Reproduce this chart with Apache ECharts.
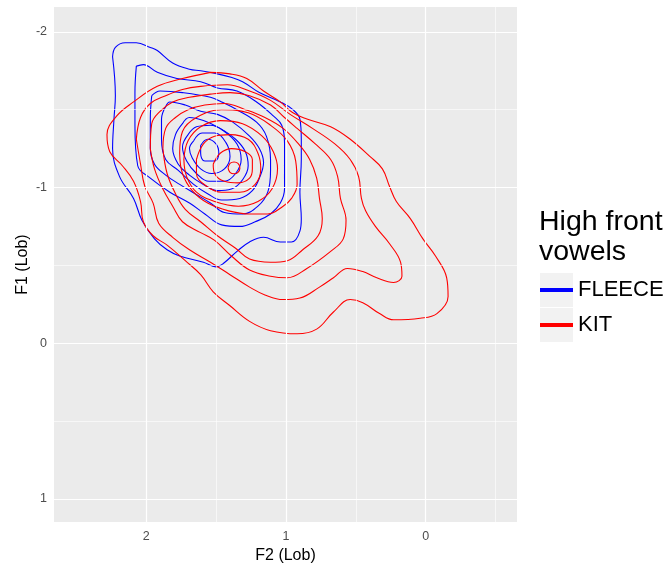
<!DOCTYPE html>
<html>
<head>
<meta charset="utf-8">
<script src="https://cdn.jsdelivr.net/npm/echarts@6/dist/echarts.min.js"></script>
<style>html,body{margin:0;padding:0;background:#fff}#c{width:670px;height:569px}</style>
</head>
<body>
<div id="c"></div>
<script>
// Axis ticks
const xTicks = [0, 1, 2];
const yTicks = [-2, -1, 0, 1];
const xMinor = [-0.5, 0.5, 1.5];
const yMinor = [-1.5, -0.5, 0.5];

// FLEECE density contours, [F2, F1] (outermost first)
const fleece1 = [[2.24,-1.84],[2.22,-1.90],[2.15,-1.93],[2.07,-1.93],[1.97,-1.90],[1.92,-1.88],[1.81,-1.80],[1.69,-1.76],[1.61,-1.75],[1.49,-1.73],[1.40,-1.71],[1.31,-1.68],[1.19,-1.61],[1.04,-1.55],[0.95,-1.50],[0.90,-1.44],[0.89,-1.31],[0.89,-1.18],[0.90,-0.97],[0.89,-0.80],[0.90,-0.72],[0.96,-0.65],[1.04,-0.65],[1.16,-0.68],[1.26,-0.65],[1.35,-0.59],[1.45,-0.51],[1.50,-0.49],[1.59,-0.52],[1.76,-0.56],[1.85,-0.60],[1.94,-0.67],[2.03,-0.79],[2.09,-0.93],[2.19,-1.07],[2.24,-1.25],[2.23,-1.44],[2.22,-1.59],[2.24,-1.84]];
const fleece2 = [[2.07,-1.78],[2.02,-1.79],[1.92,-1.74],[1.78,-1.70],[1.61,-1.68],[1.49,-1.64],[1.35,-1.62],[1.21,-1.55],[1.09,-1.46],[1.03,-1.40],[1.01,-1.29],[1.01,-1.12],[1.01,-0.99],[1.04,-0.90],[1.11,-0.83],[1.22,-0.78],[1.33,-0.75],[1.46,-0.76],[1.58,-0.83],[1.69,-0.90],[1.83,-0.97],[1.97,-1.06],[2.06,-1.14],[2.08,-1.40],[2.08,-1.61],[2.07,-1.78]];
const fleece3 = [[1.96,-1.59],[1.90,-1.62],[1.74,-1.61],[1.54,-1.58],[1.46,-1.55],[1.35,-1.50],[1.21,-1.42],[1.14,-1.33],[1.11,-1.18],[1.11,-1.11],[1.13,-0.97],[1.20,-0.88],[1.31,-0.83],[1.44,-0.84],[1.54,-0.90],[1.65,-0.96],[1.76,-1.02],[1.86,-1.08],[1.94,-1.15],[1.97,-1.25],[1.97,-1.44],[1.96,-1.59]];
const fleece4 = [[1.86,-1.52],[1.83,-1.55],[1.72,-1.53],[1.61,-1.49],[1.49,-1.47],[1.38,-1.42],[1.26,-1.33],[1.19,-1.25],[1.16,-1.16],[1.19,-1.06],[1.24,-0.98],[1.33,-0.93],[1.46,-0.92],[1.56,-0.96],[1.66,-1.02],[1.77,-1.11],[1.86,-1.18],[1.89,-1.31],[1.89,-1.44],[1.86,-1.52]];
const fleece5 = [[1.74,-1.41],[1.69,-1.45],[1.59,-1.43],[1.47,-1.38],[1.36,-1.31],[1.29,-1.23],[1.27,-1.14],[1.31,-1.05],[1.39,-0.99],[1.49,-0.98],[1.59,-1.02],[1.69,-1.08],[1.77,-1.15],[1.81,-1.25],[1.79,-1.34],[1.74,-1.41]];
const fleece6 = [[1.70,-1.34],[1.64,-1.39],[1.54,-1.40],[1.44,-1.36],[1.35,-1.28],[1.32,-1.18],[1.36,-1.09],[1.44,-1.04],[1.55,-1.04],[1.64,-1.09],[1.71,-1.17],[1.74,-1.26],[1.70,-1.34]];
const fleece7 = [[1.66,-1.30],[1.60,-1.35],[1.51,-1.35],[1.43,-1.29],[1.40,-1.20],[1.44,-1.12],[1.53,-1.09],[1.61,-1.12],[1.67,-1.19],[1.69,-1.25],[1.66,-1.30]];
const fleece8 = [[1.61,-1.27],[1.56,-1.31],[1.50,-1.28],[1.48,-1.22],[1.51,-1.17],[1.58,-1.17],[1.61,-1.22],[1.61,-1.27]];

// KIT density contours, [F2, F1] (outermost first)
const kit1 = [[1.54,-1.74],[1.40,-1.73],[1.28,-1.70],[1.16,-1.62],[1.04,-1.55],[0.95,-1.48],[0.85,-1.44],[0.68,-1.39],[0.54,-1.31],[0.40,-1.20],[0.31,-1.12],[0.26,-1.01],[0.21,-0.91],[0.11,-0.80],[0.02,-0.67],[-0.07,-0.56],[-0.15,-0.42],[-0.16,-0.30],[-0.08,-0.19],[0.04,-0.16],[0.23,-0.15],[0.33,-0.19],[0.45,-0.26],[0.54,-0.28],[0.66,-0.20],[0.78,-0.09],[0.92,-0.06],[1.11,-0.08],[1.26,-0.14],[1.40,-0.24],[1.52,-0.33],[1.61,-0.44],[1.72,-0.53],[1.85,-0.63],[1.95,-0.69],[2.02,-0.78],[2.04,-0.91],[2.09,-1.04],[2.17,-1.14],[2.26,-1.23],[2.28,-1.34],[2.21,-1.46],[2.09,-1.55],[1.92,-1.65],[1.74,-1.70],[1.54,-1.74]];
const kit2 = [[2.07,-1.31],[2.04,-1.45],[1.97,-1.54],[1.86,-1.59],[1.74,-1.63],[1.61,-1.65],[1.42,-1.66],[1.26,-1.62],[1.11,-1.56],[0.97,-1.47],[0.81,-1.38],[0.65,-1.28],[0.54,-1.18],[0.48,-1.07],[0.46,-0.93],[0.43,-0.85],[0.36,-0.75],[0.26,-0.64],[0.18,-0.52],[0.17,-0.43],[0.23,-0.39],[0.35,-0.42],[0.45,-0.46],[0.56,-0.48],[0.66,-0.42],[0.76,-0.36],[0.90,-0.29],[1.02,-0.28],[1.15,-0.31],[1.26,-0.36],[1.40,-0.44],[1.54,-0.52],[1.69,-0.60],[1.81,-0.68],[1.91,-0.77],[1.95,-0.90],[2.01,-1.01],[2.04,-1.15],[2.07,-1.31]];
const kit3 = [[1.97,-1.25],[1.96,-1.41],[1.90,-1.49],[1.81,-1.55],[1.69,-1.58],[1.54,-1.60],[1.40,-1.61],[1.26,-1.59],[1.11,-1.53],[1.01,-1.45],[0.92,-1.38],[0.79,-1.28],[0.68,-1.18],[0.63,-1.07],[0.61,-0.93],[0.57,-0.79],[0.59,-0.67],[0.68,-0.59],[0.85,-0.48],[0.99,-0.42],[1.11,-0.43],[1.26,-0.47],[1.39,-0.56],[1.51,-0.66],[1.61,-0.71],[1.74,-0.78],[1.81,-0.88],[1.88,-0.99],[1.94,-1.12],[1.97,-1.25]];
const kit4 = [[1.88,-1.25],[1.86,-1.38],[1.79,-1.45],[1.70,-1.50],[1.58,-1.53],[1.44,-1.54],[1.29,-1.50],[1.15,-1.45],[1.02,-1.38],[0.91,-1.28],[0.83,-1.18],[0.78,-1.06],[0.76,-0.93],[0.74,-0.80],[0.77,-0.69],[0.88,-0.60],[0.99,-0.53],[1.11,-0.52],[1.26,-0.54],[1.36,-0.61],[1.49,-0.69],[1.61,-0.78],[1.72,-0.86],[1.79,-0.96],[1.85,-1.09],[1.88,-1.25]];
const kit5 = [[1.76,-1.22],[1.74,-1.36],[1.64,-1.45],[1.46,-1.50],[1.27,-1.48],[1.11,-1.40],[0.99,-1.30],[0.93,-1.17],[0.92,-1.02],[0.96,-0.93],[1.02,-0.88],[1.13,-0.83],[1.26,-0.83],[1.41,-0.85],[1.56,-0.90],[1.67,-0.98],[1.74,-1.09],[1.76,-1.22]];
const kit6 = [[1.73,-1.18],[1.70,-1.30],[1.61,-1.39],[1.47,-1.43],[1.31,-1.41],[1.17,-1.33],[1.09,-1.23],[1.06,-1.12],[1.10,-0.99],[1.20,-0.91],[1.34,-0.88],[1.51,-0.91],[1.64,-0.97],[1.71,-1.07],[1.73,-1.18]];
const kit7 = [[1.64,-1.18],[1.59,-1.28],[1.51,-1.33],[1.40,-1.34],[1.27,-1.31],[1.20,-1.22],[1.18,-1.12],[1.22,-1.02],[1.33,-0.97],[1.46,-0.97],[1.57,-1.01],[1.64,-1.09],[1.64,-1.18]];
const kit8 = [[1.52,-1.15],[1.47,-1.22],[1.39,-1.25],[1.29,-1.23],[1.24,-1.18],[1.24,-1.12],[1.26,-1.06],[1.34,-1.03],[1.44,-1.04],[1.51,-1.09],[1.52,-1.15]];
const kit9 = [[1.414,-1.126],[1.400,-1.155],[1.371,-1.164],[1.343,-1.155],[1.329,-1.126],[1.343,-1.097],[1.371,-1.088],[1.400,-1.097],[1.414,-1.126]];

const fleeceRings = [fleece1, fleece2, fleece3, fleece4, fleece5, fleece6, fleece7, fleece8];
const kitRings = [kit1, kit2, kit3, kit4, kit5, kit6, kit7, kit8, kit9];

const FONT = 'Liberation Sans, Arial, sans-serif';
const BLUE = '#0000FF', RED = '#FF0000';

function ringSeries(name, color, ring) {
  return {
    name: name, type: 'line', data: ring, smooth: 0.4,
    showSymbol: false, symbol: 'none', silent: true, z: 3,
    itemStyle: { color: color },
    lineStyle: { color: color, width: 1.1 }
  };
}

const gridLines = [];
xMinor.forEach(v => gridLines.push({ xAxis: v, lineStyle: { color: '#FFFFFF', width: 0.6, type: 'solid' } }));
yMinor.forEach(v => gridLines.push({ yAxis: v, lineStyle: { color: '#FFFFFF', width: 0.6, type: 'solid' } }));
xTicks.forEach(v => gridLines.push({ xAxis: v, lineStyle: { color: '#FFFFFF', width: 1.2, type: 'solid' } }));
yTicks.forEach(v => gridLines.push({ yAxis: v, lineStyle: { color: '#FFFFFF', width: 1.2, type: 'solid' } }));

const series = [{
  name: 'grid', type: 'line', data: [], silent: true, z: 1,
  markLine: { silent: true, symbol: ['none', 'none'], label: { show: false }, animation: false, data: gridLines }
}];
fleeceRings.forEach(r => series.push(ringSeries('FLEECE', BLUE, r)));
kitRings.forEach(r => series.push(ringSeries('KIT', RED, r)));

const chart = echarts.init(document.getElementById('c'), null, { renderer: 'canvas' });
chart.setOption({
  animation: false,
  textStyle: { fontFamily: FONT },
  title: {
    text: 'High front\nvowels', left: 539, top: 207, padding: 0,
    textStyle: { fontFamily: FONT, fontSize: 28.5, lineHeight: 30, fontWeight: 'normal', color: '#000' }
  },
  legend: {
    data: ['FLEECE', 'KIT'], orient: 'vertical', left: 540, top: 273, padding: 0,
    itemGap: 1, itemWidth: 33, itemHeight: 4, icon: 'rect', selectedMode: false,
    textStyle: { fontFamily: FONT, fontSize: 22, lineHeight: 34, color: '#000' }
  },
  graphic: [
    { type: 'rect', left: 540, top: 273, shape: { width: 33, height: 34 }, style: { fill: '#F2F2F2' }, z: -1, silent: true },
    { type: 'rect', left: 540, top: 308, shape: { width: 33, height: 34 }, style: { fill: '#F2F2F2' }, z: -1, silent: true }
  ],
  grid: { left: 54, top: 7, width: 463, height: 518, show: true, backgroundColor: '#EBEBEB', borderWidth: 0, containLabel: false },
  xAxis: {
    type: 'value', inverse: true, min: -0.653, max: 2.659,
    axisLine: { show: false }, splitLine: { show: false },
    axisTick: { show: true, customValues: xTicks, length: 4, lineStyle: { color: '#333333', width: 1 } },
    axisLabel: { customValues: xTicks, margin: 8, color: '#4D4D4D', fontSize: 12.5, fontFamily: FONT },
    name: 'F2 (Lob)', nameLocation: 'middle', nameGap: 21,
    nameTextStyle: { fontSize: 16, color: '#000', fontFamily: FONT }
  },
  yAxis: {
    type: 'value', inverse: true, min: -2.16, max: 1.15,
    axisLine: { show: false }, splitLine: { show: false },
    axisTick: { show: true, customValues: yTicks, length: 4, lineStyle: { color: '#333333', width: 1 } },
    axisLabel: { customValues: yTicks, margin: 7, color: '#4D4D4D', fontSize: 12.5, fontFamily: FONT },
    name: 'F1 (Lob)', nameLocation: 'middle', nameRotate: 90, nameGap: 23, nameMoveOverlap: false,
    nameTextStyle: { fontSize: 16, color: '#000', fontFamily: FONT }
  },
  series: series
});
</script>
</body>
</html>
